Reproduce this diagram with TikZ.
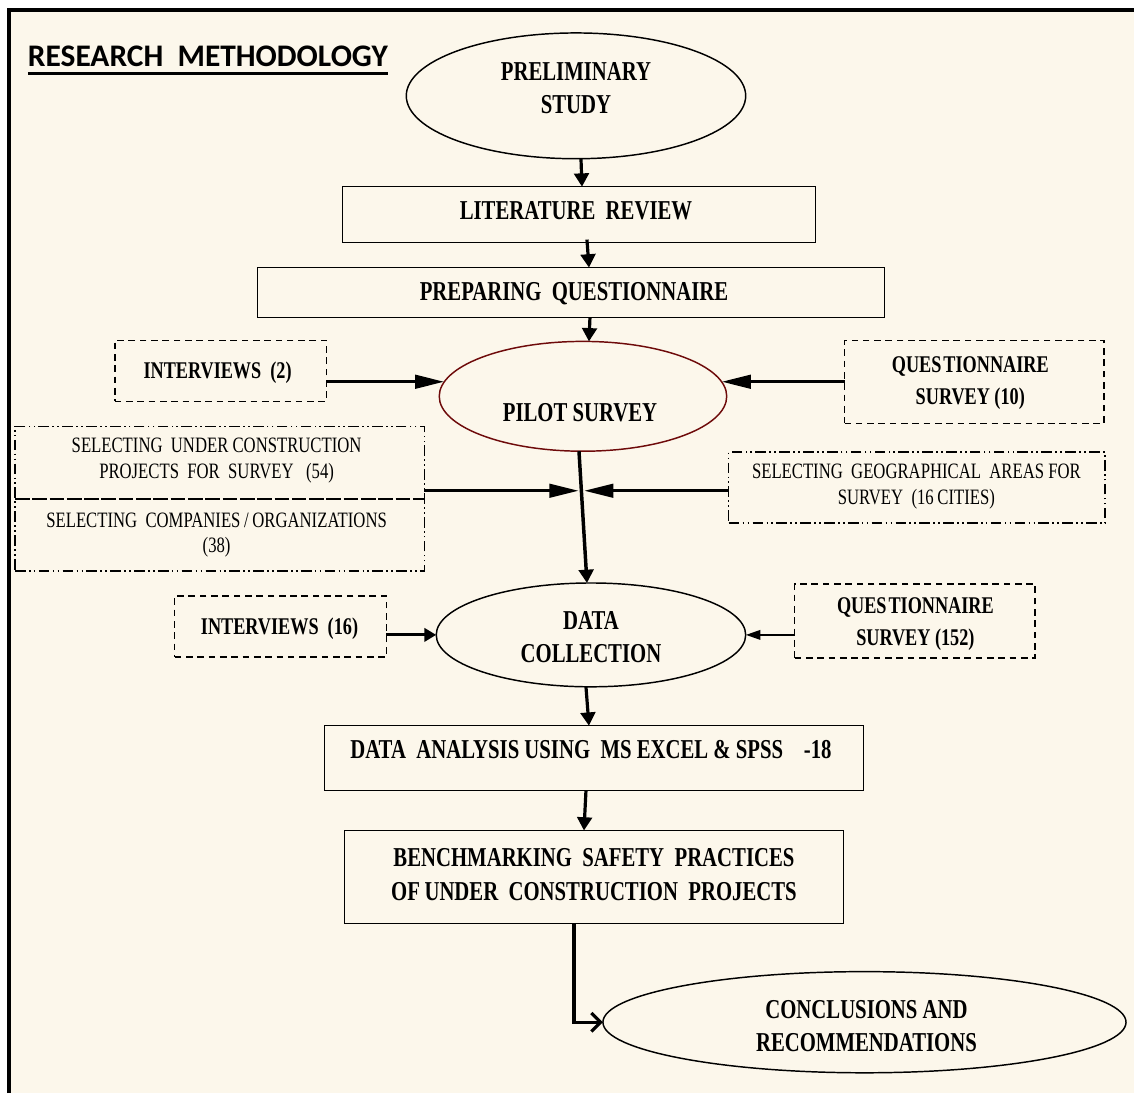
\documentclass[tikz,border=0pt]{standalone}
\usepackage{fontspec}
\setmainfont{Liberation Serif}
\newfontfamily\cond[FakeStretch=0.76]{Liberation Serif}
\newfontfamily\titlefont{Carlito}
\usetikzlibrary{shapes.geometric,arrows.meta,fit,calc}
\definecolor{cream}{RGB}{252,247,235}
\definecolor{pilotred}{RGB}{110,10,10}
\begin{document}
\begin{tikzpicture}[x=0.75pt,y=-0.75pt,
  every node/.style={inner sep=0pt, outer sep=0pt},
  solidbox/.style={draw=black, line width=1.1pt},
  dashbox/.style={draw=black, line width=1.1pt, dash pattern=on 5pt off 3.5pt},
  ddbox/.style={draw=black, line width=1.1pt, dash pattern=on 8pt off 2.5pt on 1.2pt off 2.5pt on 1.2pt off 2.5pt},
  oval/.style={ellipse, draw=black, line width=1.1pt},
  bigtxt/.style={font=\cond\bfseries\fontsize{20.5}{25}\selectfont, align=center},
  midtxt/.style={font=\cond\bfseries\fontsize{18}{24}\selectfont, align=center},
  smltxt/.style={font=\cond\fontsize{16.5}{19.5}\selectfont, align=center},
  conn/.style={line width=2.4pt, -{Triangle[length=10pt,width=11pt]}},
  longconn/.style={line width=2.6pt, -{Triangle[length=22pt,width=10pt]}},
  shortconn/.style={line width=2.4pt, -{Triangle[length=9pt,width=10pt]}},
  thinconn/.style={line width=1.8pt, -{Triangle[length=11pt,width=7pt]}},
]
% background and frame
\fill[white] (0,0) rectangle (1136,1095);
\fill[cream] (9,10) rectangle (1136,1095);
\draw[line width=3pt, line join=miter] (9,1095) -- (9,10) -- (1136,10);

% title
\node[font=\titlefont\bfseries\fontsize{23.6}{28}\selectfont, anchor=base west] (title) at (28,67) {RESEARCH\ \ METHODOLOGY};
\draw[line width=2.2pt] ($(title.base west)+(0,7)$) -- ($(title.base east)+(0,7)$);

% main column
\node[oval, minimum width=255pt, minimum height=94.5pt] (prelim) at (577,96) {};
\node[bigtxt] (prelimT) at (577,88) {PRELIMINARY\\STUDY};

\node[solidbox, fit={(343,187) (817,243)}] (lit) {};
\node[bigtxt] (litT) at (577,211) {LITERATURE\ \ REVIEW};

\node[solidbox, fit={(258,268) (886,318)}] (prep) {};
\node[bigtxt] (prepT) at (575,294) {PREPARING\ \ QUESTIONNAIRE};

\node[ellipse, draw=pilotred, line width=1.1pt, minimum width=216pt, minimum height=82.5pt] (pilot) at (584,397) {};
\node[bigtxt] (pilotT) at (581,413) {PILOT SURVEY};

\node[dashbox, fit={(115,341) (327,402)}] (int2) {};
\node[midtxt] (int2T) at (218,373) {INTERVIEWS\ \ (2)};

\node[dashbox, fit={(846,341) (1106,424)}] (q10) {};
\node[midtxt] (q10T) at (972,384) {QUES\kern1.5pt TIONNAIRE\\SURVEY (10)};

% selecting boxes
\node[ddbox, fit={(15,427) (425,572)}] (sel) {};
\node[fit={(15,427) (425,500)}] (selA) {};
\node[fit={(15,500) (425,572)}] (selB) {};
\draw[line width=1.1pt, dash pattern=on 11pt off 2pt] (selA.south west) -- (selA.south east);
\node[smltxt] (selAT) at (217,461) {SELECTING\ \ UNDER CONSTRUCTION\\PROJECTS\ \ FOR\ \ SURVEY\ \ \ (54)};
\node[smltxt] (selBT) at (217,536) {SELECTING\ \ COMPANIES\,/\,ORGANIZATIONS\\(38)};

\node[ddbox, fit={(730,453) (1107,524)}] (geo) {};
\node[smltxt] (geoT) at (918,487) {SELECTING\ \ GEOGRAPHICAL\ \ AREAS FOR\\SURVEY\ \ (16\,CITIES)};

% data collection
\node[oval, minimum width=232.5pt, minimum height=78pt] (dc) at (592,636) {};
\node[bigtxt] (dcT) at (592,638) {DATA\\COLLECTION};

\node[dashbox, fit={(175,597) (387,658)}] (int16) {};
\node[midtxt] (int16T) at (280,630) {INTERVIEWS\ \ (16)};

\node[dashbox, fit={(796,585) (1037,659)}] (q152) {};
\node[midtxt] (q152T) at (917,625) {QUES\kern1.5pt TIONNAIRE\\SURVEY (152)};

\node[solidbox, fit={(325,727) (865,792)}] (da) {};
\node[bigtxt] (daT) at (592,751) {DATA\ \ ANALYSIS\ USING\ \ MS EXCEL \& SPSS\ \ \ \ -18};

\node[solidbox, fit={(345,832) (845,925)}] (bench) {};
\node[bigtxt] (benchT) at (595,876) {BENCHMARKING\ \ SAFETY\ \ PRACTICES\\OF\,UNDER\ \ CONSTRUCTION\ \ PROJECTS};

\node[oval, minimum width=393pt, minimum height=76pt] (concl) at (866,1024) {};
\node[bigtxt] (conclT) at (868,1028) {CONCLUSIONS AND\\RECOMMENDATIONS};

% connectors
\draw[conn] ($(prelim.south)+(5,0)$) -- ($(lit.north)+(3,0)$);
\draw[conn] ($(lit.south)+(8,-3)$) -- ($(prep.north)+(18,0)$);
\draw[conn] ($(prep.south)+(19,0)$) -- ($(pilot.north)+(6,0)$);

\draw[longconn] (int2.east |- pilot.174) -- (pilot.174);
\draw[longconn] (q10.west |- pilot.6) -- (pilot.6);

\draw[line width=2.6pt, -{Triangle[length=10pt,width=11pt]}] ($(pilot.south)+(-4,0)$) coordinate (vtop) -- ($(dc.north)+(-4,0)$) coordinate (vbot);
\coordinate (junc) at ($(vtop)!0.3!(vbot)$);
\draw[longconn] (sel.east |- junc) -- ([xshift=-2pt]junc);
\draw[longconn] (geo.west |- junc) -- ([xshift=2pt]junc);

\draw[shortconn] (int16.east |- dc.west) -- (dc.west);
\draw[thinconn] (q152.west |- dc.east) -- (dc.east);

\draw[conn] ($(dc.south)+(-5,0)$) -- ($(da.north)+(-5,0)$);
\draw[conn] ($(da.south)+(-8,0)$) -- ($(bench.north)+(-10,0)$);
\draw[line width=2.4pt, -{Straight Barb[length=7pt,width=14pt]}] ($(bench.south)+(-20,0)$) |- (concl.west);
\end{tikzpicture}
\end{document}
